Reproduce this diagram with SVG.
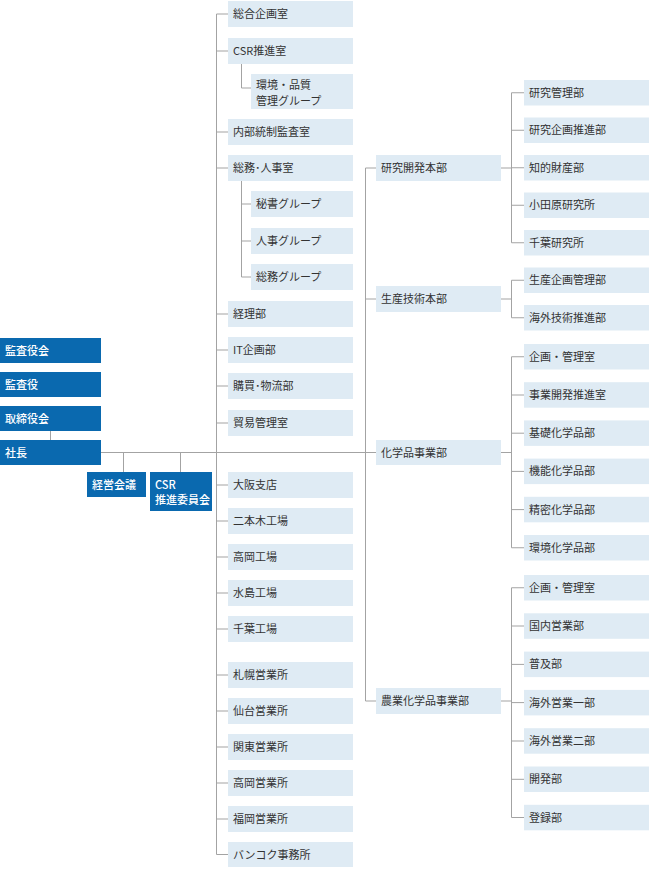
<svg xmlns="http://www.w3.org/2000/svg" width="649" height="869" viewBox="0 0 649 869">
<style>
.d{fill:#0a69af}
.l{fill:#dfebf4}
text{font-family:"Noto Sans CJK JP","Noto Sans",sans-serif;font-size:11px}
.dt{fill:#ffffff;font-weight:500}
.lt{fill:#333333}
.c{fill:none;stroke:#a3a3a3;stroke-width:1}
</style>
<rect width="649" height="869" fill="#ffffff"/>
<g id="connectors">
<path class="c" d="M50.5 431V440"/>
<path class="c" d="M101 452.5H376"/>
<path class="c" d="M123.5 452.5V472M180.5 452.5V472"/>
<path class="c" d="M228 14H216.5V854.5H228"/>
<path class="c" d="M216.5 51H228M216.5 132H228M216.5 168H228M216.5 314H228M216.5 350H228M216.5 386H228M216.5 423H228M216.5 485H228M216.5 521H228M216.5 557H228M216.5 593H228M216.5 629H228M216.5 675H228M216.5 711H228M216.5 747H228M216.5 783H228M216.5 819H228"/>
<path class="c" d="M241.5 64V88H251"/>
<path class="c" d="M241.5 181V277H251M241.5 204H251M241.5 241H251"/>
<path class="c" d="M376 168H365.5V701H376M365.5 299H376"/>
<path class="c" d="M501 168H511.5M524 92.75H511.5V242.75H524M511.5 130.25H524M511.5 167.75H524M511.5 205.25H524"/>
<path class="c" d="M501 299H511.5M524 280.25H511.5V317.75H524"/>
<path class="c" d="M501 452.5H511.5M524 356.75H511.5V547.75H524M511.5 395H524M511.5 433.2H524M511.5 471.4H524M511.5 509.6H524"/>
<path class="c" d="M501 701H511.5M524 587.75H511.5V817.5H524M511.5 626H524M511.5 664.4H524M511.5 702.6H524M511.5 741H524M511.5 779.3H524"/>
</g>
<g id="kansayakukai"><rect class="d" x="0" y="338" width="101" height="25"/><text class="dt" x="5" y="354.5">監査役会</text></g>
<g id="kansayaku"><rect class="d" x="0" y="372" width="101" height="25"/><text class="dt" x="5" y="388.5">監査役</text></g>
<g id="torishimariyakukai"><rect class="d" x="0" y="406" width="101" height="25"/><text class="dt" x="5" y="422.5">取締役会</text></g>
<g id="shacho"><rect class="d" x="0" y="440" width="101" height="25"/><text class="dt" x="5" y="456.5">社長</text></g>
<g id="keiei"><rect class="d" x="87" y="472" width="59" height="25"/><text class="dt" x="92" y="488.5">経営会議</text></g>
<g id="csr-iinkai"><rect class="d" x="150" y="472" width="62" height="39"/><text class="dt" x="155" y="489">CSR</text><text class="dt" x="155" y="503.5">推進委員会</text></g>
<g id="sogokikaku"><rect class="l" x="228" y="1" width="125" height="26"/><text class="lt" x="233" y="18">総合企画室</text></g>
<g id="csr-suishin"><rect class="l" x="228" y="38" width="125" height="26"/><text class="lt" x="233" y="55">CSR推進室</text></g>
<g id="kankyo-hinshitsu"><rect class="l" x="251" y="74" width="102" height="35"/><text class="lt" x="256" y="89">環境・品質</text><text class="lt" x="256" y="105">管理グループ</text></g>
<g id="naibutosei"><rect class="l" x="228" y="119" width="125" height="26"/><text class="lt" x="233" y="136">内部統制監査室</text></g>
<g id="somujinji"><rect class="l" x="228" y="155" width="125" height="26"/><text class="lt" x="233" y="172">総務･人事室</text></g>
<g id="hisho"><rect class="l" x="251" y="191" width="102" height="26"/><text class="lt" x="256" y="208">秘書グループ</text></g>
<g id="jinji"><rect class="l" x="251" y="228" width="102" height="26"/><text class="lt" x="256" y="245">人事グループ</text></g>
<g id="somu"><rect class="l" x="251" y="264" width="102" height="26"/><text class="lt" x="256" y="281">総務グループ</text></g>
<g id="keiri"><rect class="l" x="228" y="301" width="125" height="26"/><text class="lt" x="233" y="318">経理部</text></g>
<g id="itkikaku"><rect class="l" x="228" y="337" width="125" height="26"/><text class="lt" x="233" y="354">IT企画部</text></g>
<g id="kobai"><rect class="l" x="228" y="373" width="125" height="26"/><text class="lt" x="233" y="390">購買･物流部</text></g>
<g id="boeki"><rect class="l" x="228" y="410" width="125" height="26"/><text class="lt" x="233" y="427">貿易管理室</text></g>
<g id="osaka"><rect class="l" x="228" y="472" width="125" height="26"/><text class="lt" x="233" y="489">大阪支店</text></g>
<g id="nihongi"><rect class="l" x="228" y="508" width="125" height="26"/><text class="lt" x="233" y="525">二本木工場</text></g>
<g id="takaoka-k"><rect class="l" x="228" y="544" width="125" height="26"/><text class="lt" x="233" y="561">高岡工場</text></g>
<g id="mizushima"><rect class="l" x="228" y="580" width="125" height="26"/><text class="lt" x="233" y="597">水島工場</text></g>
<g id="chiba-k"><rect class="l" x="228" y="616" width="125" height="26"/><text class="lt" x="233" y="633">千葉工場</text></g>
<g id="sapporo"><rect class="l" x="228" y="662" width="125" height="26"/><text class="lt" x="233" y="679">札幌営業所</text></g>
<g id="sendai"><rect class="l" x="228" y="698" width="125" height="26"/><text class="lt" x="233" y="715">仙台営業所</text></g>
<g id="kanto"><rect class="l" x="228" y="734" width="125" height="26"/><text class="lt" x="233" y="751">関東営業所</text></g>
<g id="takaoka-e"><rect class="l" x="228" y="770" width="125" height="26"/><text class="lt" x="233" y="787">高岡営業所</text></g>
<g id="fukuoka"><rect class="l" x="228" y="806" width="125" height="26"/><text class="lt" x="233" y="823">福岡営業所</text></g>
<g id="bangkok"><rect class="l" x="228" y="842" width="125" height="25"/><text class="lt" x="233" y="858.5">バンコク事務所</text></g>
<g id="kenkyukaihatsu"><rect class="l" x="376" y="155" width="125" height="26"/><text class="lt" x="381" y="172">研究開発本部</text></g>
<g id="seisangijutsu"><rect class="l" x="376" y="286" width="125" height="26"/><text class="lt" x="381" y="303">生産技術本部</text></g>
<g id="kagakuhin"><rect class="l" x="376" y="440" width="125" height="25"/><text class="lt" x="381" y="456.5">化学品事業部</text></g>
<g id="nogyo"><rect class="l" x="376" y="688" width="125" height="26"/><text class="lt" x="381" y="705">農業化学品事業部</text></g>
<g id="kenkyukanri"><rect class="l" x="524" y="80" width="125" height="25.5"/><text class="lt" x="529" y="96.75">研究管理部</text></g>
<g id="kenkyukikaku"><rect class="l" x="524" y="117.5" width="125" height="25.5"/><text class="lt" x="529" y="134.25">研究企画推進部</text></g>
<g id="chiteki"><rect class="l" x="524" y="155" width="125" height="25.5"/><text class="lt" x="529" y="171.75">知的財産部</text></g>
<g id="odawara"><rect class="l" x="524" y="192.5" width="125" height="25.5"/><text class="lt" x="529" y="209.25">小田原研究所</text></g>
<g id="chiba-ken"><rect class="l" x="524" y="230" width="125" height="25.5"/><text class="lt" x="529" y="246.75">千葉研究所</text></g>
<g id="seisankikaku"><rect class="l" x="524" y="267.5" width="125" height="25.5"/><text class="lt" x="529" y="284.25">生産企画管理部</text></g>
<g id="kaigaigijutsu"><rect class="l" x="524" y="305" width="125" height="25.5"/><text class="lt" x="529" y="321.75">海外技術推進部</text></g>
<g id="k-kikakukanri"><rect class="l" x="524" y="344" width="125" height="25.5"/><text class="lt" x="529" y="360.75">企画・管理室</text></g>
<g id="jigyokaihatsu"><rect class="l" x="524" y="382.2" width="125" height="25.5"/><text class="lt" x="529" y="398.95">事業開発推進室</text></g>
<g id="kiso"><rect class="l" x="524" y="420.4" width="125" height="25.5"/><text class="lt" x="529" y="437.15">基礎化学品部</text></g>
<g id="kino"><rect class="l" x="524" y="458.6" width="125" height="25.5"/><text class="lt" x="529" y="475.35">機能化学品部</text></g>
<g id="seimitsu"><rect class="l" x="524" y="496.8" width="125" height="25.5"/><text class="lt" x="529" y="513.55">精密化学品部</text></g>
<g id="kankyokagaku"><rect class="l" x="524" y="535" width="125" height="25.5"/><text class="lt" x="529" y="551.75">環境化学品部</text></g>
<g id="n-kikakukanri"><rect class="l" x="524" y="575" width="125" height="25.5"/><text class="lt" x="529" y="591.75">企画・管理室</text></g>
<g id="kokunai"><rect class="l" x="524" y="613.3" width="125" height="25.5"/><text class="lt" x="529" y="630.05">国内営業部</text></g>
<g id="fukyu"><rect class="l" x="524" y="651.6" width="125" height="25.5"/><text class="lt" x="529" y="668.35">普及部</text></g>
<g id="kaigai1"><rect class="l" x="524" y="689.9" width="125" height="25.5"/><text class="lt" x="529" y="706.65">海外営業一部</text></g>
<g id="kaigai2"><rect class="l" x="524" y="728.2" width="125" height="25.5"/><text class="lt" x="529" y="744.95">海外営業二部</text></g>
<g id="kaihatsu"><rect class="l" x="524" y="766.5" width="125" height="25.5"/><text class="lt" x="529" y="783.25">開発部</text></g>
<g id="toroku"><rect class="l" x="524" y="804.8" width="125" height="25.5"/><text class="lt" x="529" y="821.55">登録部</text></g>
</svg>
